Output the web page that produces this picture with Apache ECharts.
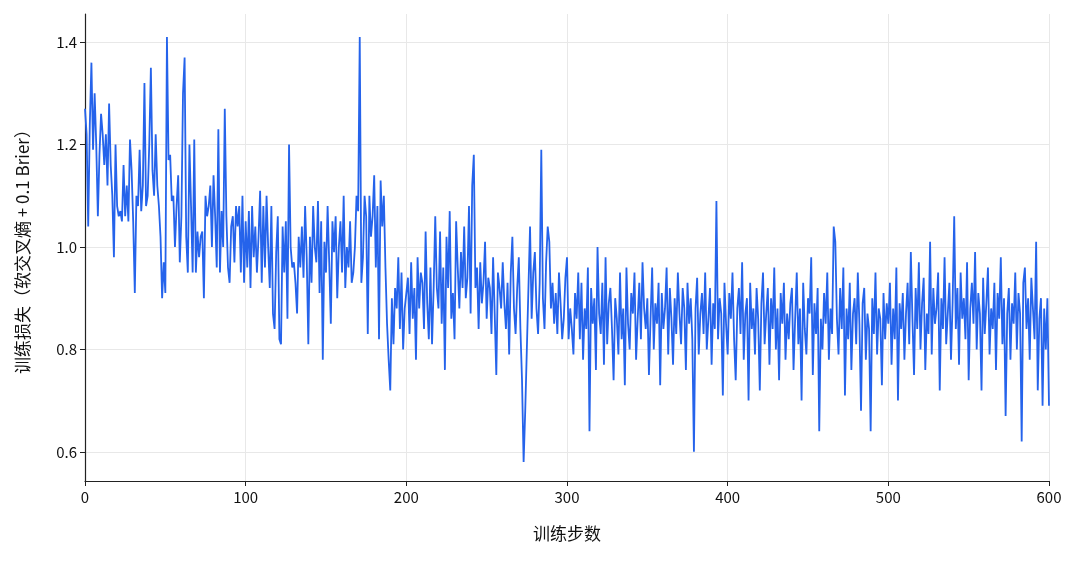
<!DOCTYPE html>
<html><head><meta charset="utf-8">
<script src="https://cdn.jsdelivr.net/npm/echarts@6/dist/echarts.min.js"></script>
<style>html,body{margin:0;padding:0;background:#fff}#c{width:1080px;height:561px}</style>
</head><body><div id="c"></div>
<script>
const xLabel = '训练步数';
const yLabel = '训练损失（软交叉熵 + 0.1 Brier）';
const yTicks = [0.6, 0.8, 1.0, 1.2, 1.4];
const loss = [
1.27,1.22,1.04,1.24,1.36,1.19,1.30,1.20,1.06,1.18,1.26,1.22,1.16,1.22,1.12,1.28,1.16,1.10,0.98,1.20,
1.08,1.06,1.07,1.05,1.16,1.06,1.12,1.05,1.21,1.15,1.05,0.91,1.10,1.08,1.19,1.07,1.12,1.32,1.08,1.10,
1.20,1.35,1.15,1.10,1.22,1.12,1.08,1.02,0.90,0.97,0.91,1.41,1.17,1.18,1.09,1.10,1.00,1.08,1.14,0.97,
1.06,1.30,1.37,1.02,0.95,1.20,1.08,0.95,1.21,0.95,1.03,0.98,1.02,1.03,0.90,1.10,1.06,1.08,1.12,1.00,
1.14,1.06,0.96,1.23,0.95,1.07,1.00,1.27,1.06,0.96,0.93,1.04,1.06,0.97,1.08,1.04,1.08,0.95,1.10,0.93,
1.05,0.96,1.07,0.92,1.08,0.98,1.04,0.95,1.02,1.11,0.93,1.08,0.96,1.10,1.00,0.92,1.08,0.87,0.84,0.99,
1.06,0.82,0.81,1.04,0.95,1.05,0.86,1.20,1.00,0.96,0.97,0.93,0.87,1.02,0.96,1.04,0.94,1.08,0.98,0.81,
1.02,0.93,1.08,1.00,0.97,1.09,0.91,1.05,0.78,1.01,0.95,1.08,0.97,0.85,1.05,0.99,1.06,0.90,1.00,1.05,
0.95,1.10,0.92,1.00,0.96,1.05,0.93,0.95,1.00,1.10,1.07,1.41,0.93,0.98,1.10,1.06,0.83,1.10,1.02,1.06,
1.14,0.96,1.08,0.82,1.13,1.04,1.10,0.96,0.85,0.78,0.72,0.90,0.81,0.92,0.88,0.98,0.84,0.95,0.80,0.88,
0.91,0.94,0.83,0.97,0.86,0.92,0.78,0.98,0.88,0.95,0.93,0.84,1.03,0.89,0.82,0.96,0.81,0.92,1.06,0.92,
0.88,1.03,0.85,0.96,0.76,1.02,0.92,1.07,0.86,0.91,0.82,1.05,0.96,0.88,0.99,0.92,1.04,0.90,0.94,1.08,
0.87,1.12,1.18,0.92,0.96,0.84,0.97,0.89,0.93,1.01,0.86,0.94,0.92,0.83,0.98,0.87,0.75,0.95,0.92,0.88,
0.97,0.89,0.84,0.93,0.79,0.95,1.02,0.88,0.83,0.92,0.98,0.84,0.74,0.58,0.68,0.80,0.92,1.04,0.86,0.95,
0.99,0.88,0.83,0.93,1.19,0.90,0.84,0.97,1.04,1.01,0.88,0.93,0.85,0.91,0.83,0.95,0.89,0.82,0.86,0.94,
0.98,0.82,0.88,0.84,0.79,0.91,0.86,0.95,0.82,0.93,0.78,0.88,0.84,0.96,0.64,0.92,0.85,0.90,0.76,1.00,
0.87,0.83,0.93,0.77,0.98,0.81,0.89,0.92,0.84,0.74,0.90,0.86,0.79,0.95,0.82,0.88,0.73,0.96,0.85,0.80,
0.91,0.87,0.95,0.78,0.86,0.93,0.82,0.97,0.88,0.84,0.90,0.75,0.86,0.96,0.80,0.89,0.85,0.93,0.73,0.91,
0.84,0.88,0.96,0.79,0.92,0.86,0.77,0.90,0.83,0.95,0.87,0.81,0.92,0.88,0.76,0.93,0.85,0.90,0.82,0.60,
0.88,0.94,0.79,0.87,0.91,0.83,0.95,0.80,0.86,0.92,0.77,0.89,0.84,1.09,0.82,0.90,0.87,0.71,0.93,0.85,
0.79,0.91,0.86,0.95,0.82,0.74,0.88,0.92,0.83,0.97,0.78,0.87,0.90,0.70,0.93,0.84,0.88,0.79,0.92,0.86,
0.72,0.89,0.95,0.81,0.87,0.92,0.77,0.90,0.84,0.96,0.80,0.88,0.74,0.91,0.85,0.93,0.78,0.87,0.82,0.89,
0.92,0.76,0.86,0.95,0.81,0.88,0.70,0.93,0.84,0.79,0.90,0.87,0.98,0.75,0.89,0.83,0.92,0.64,0.86,0.80,
0.91,0.85,0.95,0.78,0.88,0.83,1.04,1.01,0.86,0.79,0.92,0.84,0.96,0.71,0.88,0.82,0.93,0.76,0.87,0.90,
0.81,0.95,0.85,0.68,0.89,0.92,0.78,0.87,0.84,0.64,0.90,0.83,0.95,0.79,0.88,0.86,0.73,0.91,0.82,0.89,
0.85,0.93,0.77,0.88,0.82,0.96,0.70,0.89,0.84,0.91,0.78,0.87,0.93,0.81,0.99,0.86,0.75,0.92,0.84,0.97,
0.80,0.89,0.94,0.76,0.87,0.83,1.01,0.79,0.92,0.85,0.88,0.95,0.72,0.90,0.84,0.98,0.81,0.87,0.93,0.78,
0.89,1.06,0.84,0.92,0.77,0.95,0.86,0.90,0.82,0.97,0.74,0.88,0.93,0.85,0.99,0.80,0.91,0.87,0.72,0.94,
0.83,0.89,0.96,0.79,0.88,0.84,0.93,0.76,0.91,0.86,0.98,0.81,0.90,0.67,0.87,0.92,0.78,0.89,0.85,0.95,
0.80,0.91,0.87,0.62,0.93,0.96,0.84,0.90,0.78,0.94,0.88,0.82,1.01,0.72,0.86,0.90,0.69,0.88,0.80,0.90,
0.69
];
const data = loss.map((v, i) => [i, v]);
const font = '"Noto Sans CJK SC", "Noto Sans", sans-serif';
const chart = echarts.init(document.getElementById('c'));
chart.setOption({
  animation: false,
  textStyle: { fontFamily: font },
  grid: { left: 85, right: 31, top: 14, bottom: 80 },
  xAxis: {
    type: 'value', min: 0, max: 600, interval: 100,
    name: xLabel, nameLocation: 'middle', nameGap: 44,
    nameTextStyle: { fontSize: 17, color: '#111', fontFamily: font },
    axisLine: { lineStyle: { color: '#222', width: 1.2 } },
    axisTick: { show: true, length: 5, lineStyle: { color: '#222' } },
    axisLabel: { fontSize: 15, color: '#111', margin: 9 },
    splitLine: { show: true, lineStyle: { color: '#e8e8e8' } }
  },
  yAxis: {
    type: 'value', min: 0.543, max: 1.455,
    name: yLabel, nameLocation: 'middle', nameGap: 54,
    nameTextStyle: { fontSize: 17, color: '#111', fontFamily: font },
    axisLine: { show: true, lineStyle: { color: '#222', width: 1.2 } },
    axisTick: { show: true, length: 5, customValues: yTicks, lineStyle: { color: '#222' } },
    axisLabel: { fontSize: 15, color: '#111', customValues: yTicks, formatter: v => v.toFixed(1) },
    splitLine: { show: true, lineStyle: { color: '#e8e8e8' } }
  },
  series: [{
    type: 'line', data: data, showSymbol: false,
    lineStyle: { color: '#2563eb', width: 1.8 }
  }]
});
</script></body></html>
